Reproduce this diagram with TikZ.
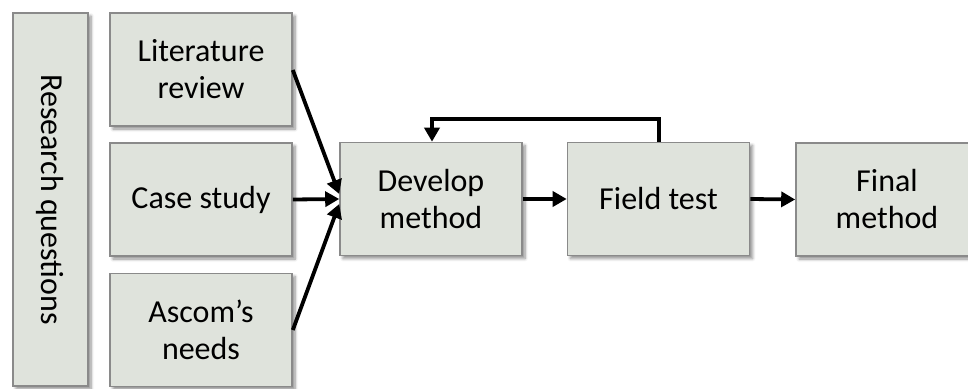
\documentclass[tikz,border=0pt]{standalone}
\usepackage{fontspec}
\setmainfont{Carlito}
\usetikzlibrary{arrows.meta,shadows.blur}
\definecolor{boxfill}{HTML}{DFE3DC}
\definecolor{boxline}{HTML}{8A8A8A}
\tikzset{
  labelfont/.style={font=\fontsize{32}{37}\selectfont},
  stage/.style={draw=boxline, line width=1.6pt, fill=boxfill,
    minimum width=182pt, minimum height=113pt, inner sep=0pt,
    align=center, labelfont,
    blur shadow={shadow xshift=3pt, shadow yshift=-3pt, shadow blur steps=6, shadow blur radius=3pt, shadow opacity=45}},
  flow/.style={line width=3.8pt, -{Triangle[length=14pt,width=15pt]}}
}
\begin{document}
\begin{tikzpicture}[x=1pt,y=-1pt]
\useasboundingbox (0,0) rectangle (968,388);
\clip (0,0) rectangle (968,388);
% side bar spanning all inputs
\node[stage, minimum width=75pt, minimum height=373pt] (rq) at (50.5,199.5) {};
\node[rotate=-90, labelfont] (rqt) at (rq.center) {Research questions};
% input boxes
\node[stage] (lit) at (201,69.5) {Literature\\review};
\node[stage] (case) at (201,199.5) {Case study};
\node[stage] (ascom) at (201,330) {Ascom’s\\needs};
% main chain
\node[stage] (dev) at (431,199) {Develop\\method};
\node[stage] (field) at (658.5,199) {Field test};
\node[stage] (final) at (887,199.5) {Final\\method};
% connectors
\draw[flow] (lit.east |- 0,70) -- (dev.west |- 0,194);
\draw[flow] (case.east) -- (dev.west);
\draw[flow] (ascom.east |- 0,330) -- (dev.west |- 0,204);
\draw[flow] (dev.east) -- (field.west);
\draw[flow] (field.east) -- (final.west);
\coordinate (fbA) at (659,119);
\coordinate (fbB) at (432,119);
\draw[flow] (field.north -| fbA) -- (fbA) -- (fbB) -- (dev.north -| fbB);
\end{tikzpicture}
\end{document}
